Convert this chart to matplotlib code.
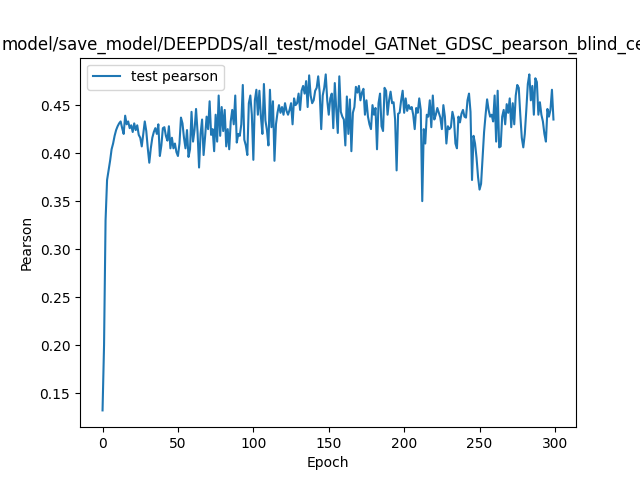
import matplotlib.pyplot as plt

pearson = [
    0.132, 0.200, 0.330, 0.372, 0.382, 0.392, 0.404, 0.410, 0.418, 0.424,
    0.428, 0.431, 0.433, 0.426, 0.420, 0.439, 0.430, 0.433, 0.426, 0.429,
    0.422, 0.431, 0.424, 0.429, 0.419, 0.416, 0.407, 0.420, 0.433, 0.423,
    0.405, 0.390, 0.405, 0.416, 0.422, 0.426, 0.420, 0.430, 0.397, 0.408,
    0.426, 0.427, 0.418, 0.413, 0.428, 0.405, 0.416, 0.405, 0.410, 0.401,
    0.397, 0.410, 0.437, 0.431, 0.416, 0.405, 0.424, 0.396, 0.404, 0.443,
    0.412, 0.424, 0.446, 0.422, 0.385, 0.420, 0.435, 0.398, 0.417, 0.438,
    0.425, 0.454, 0.419, 0.425, 0.402, 0.440, 0.412, 0.460, 0.418, 0.448,
    0.423, 0.445, 0.407, 0.425, 0.404, 0.433, 0.445, 0.430, 0.460, 0.411,
    0.420, 0.418, 0.430, 0.471, 0.414, 0.408, 0.398, 0.452, 0.460, 0.440,
    0.393, 0.455, 0.466, 0.440, 0.465, 0.438, 0.420, 0.472, 0.434, 0.424,
    0.408, 0.466, 0.427, 0.454, 0.392, 0.430, 0.442, 0.450, 0.442, 0.448,
    0.440, 0.452, 0.444, 0.440, 0.445, 0.452, 0.430, 0.457, 0.450, 0.452,
    0.462, 0.445, 0.465, 0.470, 0.462, 0.475, 0.448, 0.481, 0.460, 0.452,
    0.455, 0.465, 0.468, 0.480, 0.463, 0.425, 0.460, 0.468, 0.482, 0.455,
    0.440, 0.457, 0.462, 0.426, 0.473, 0.445, 0.421, 0.480, 0.443, 0.438,
    0.435, 0.408, 0.459, 0.420, 0.456, 0.402, 0.442, 0.448, 0.469, 0.463,
    0.470, 0.455, 0.463, 0.467, 0.440, 0.455, 0.438, 0.430, 0.425, 0.450,
    0.440, 0.447, 0.404, 0.452, 0.462, 0.428, 0.423, 0.468, 0.465, 0.440,
    0.455, 0.464, 0.452, 0.453, 0.435, 0.382, 0.441, 0.442, 0.455, 0.465,
    0.442, 0.457, 0.444, 0.450, 0.446, 0.448, 0.440, 0.425, 0.447, 0.442,
    0.457, 0.445, 0.350, 0.425, 0.410, 0.440, 0.438, 0.455, 0.427, 0.460,
    0.435, 0.440, 0.447, 0.442, 0.437, 0.425, 0.450, 0.438, 0.410, 0.428,
    0.425, 0.427, 0.443, 0.436, 0.410, 0.405, 0.438, 0.432, 0.441, 0.445,
    0.438, 0.437, 0.455, 0.462, 0.443, 0.372, 0.418, 0.410, 0.395, 0.375,
    0.362, 0.368, 0.395, 0.422, 0.440, 0.456, 0.445, 0.438, 0.440, 0.433,
    0.460, 0.412, 0.465, 0.406, 0.407, 0.438, 0.445, 0.430, 0.451, 0.442,
    0.457, 0.427, 0.452, 0.430, 0.460, 0.471, 0.468, 0.440, 0.416, 0.406,
    0.420, 0.445, 0.472, 0.482, 0.455, 0.470, 0.440, 0.478, 0.474, 0.440,
    0.453, 0.440, 0.433, 0.420, 0.412, 0.446, 0.438, 0.445, 0.466, 0.435,
]
epochs = list(range(len(pearson)))

fig, ax = plt.subplots(figsize=(6.4, 4.8), dpi=100)
ax.plot(epochs, pearson, label="test pearson")
ax.set_title("model/save_model/DEEPDDS/all_test/model_GATNet_GDSC_pearson_blind_cell")
ax.set_xlabel("Epoch")
ax.set_ylabel("Pearson")
ax.legend(loc="upper left")
plt.savefig("out.png")
plt.close()
